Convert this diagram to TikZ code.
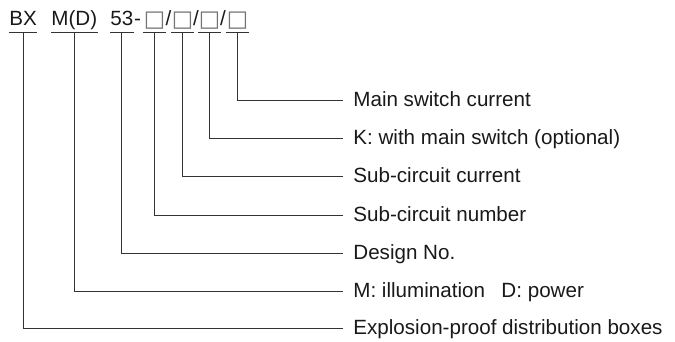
\documentclass[tikz,border=0pt]{standalone}
\usepackage{fontspec}
\setmainfont{Liberation Sans}
\newfontfamily\symfont{DejaVu Sans}
\begin{document}
\begin{tikzpicture}[x=0.5pt,y=-0.5pt,
  txt/.style={font=\fontsize{10.3pt}{12pt}\selectfont, text=black!90, inner sep=0pt},
  top/.style={txt, anchor=base west},
  boxch/.style={font=\symfont\fontsize{11.3pt}{12pt}\selectfont, text=black!55, inner sep=0pt, anchor=base},
  lab/.style={txt, anchor=west, inner xsep=5pt, text height=6pt, text depth=0pt},
  ln/.style={line width=0.5pt, draw=black!80}]
\path[use as bounding box] (0,0) rectangle (675,342);
\coordinate (ul) at (0,33);
% top code
\node[top] (bx) at (9,26) {BX};
\node[top] (md) at (51,26) {M(D)};
\node[top] (n53) at (110,26) {53};
\node[top] (dash) at (n53.base east) {-};
\node[boxch] (b1) at (154.5,26.5) {□};
\node[top, anchor=base] (s1) at (168.5,26) {/};
\node[boxch] (b2) at (182.5,26.5) {□};
\node[top, anchor=base] (s2) at (196,26) {/};
\node[boxch] (b3) at (209.5,26.5) {□};
\node[top, anchor=base] (s3) at (223,26) {/};
\node[boxch] (b4) at (237.5,26.5) {□};
% labels
\node[lab] (l1) at (343,101) {Main switch current};
\node[lab] (l2) at (343,139) {K: with main switch (optional)};
\node[lab] (l3) at (343,177) {Sub-circuit current};
\node[lab] (l4) at (343,215) {Sub-circuit number};
\node[lab] (l5) at (343,253) {Design No.};
\node[lab] (l6) at (343,291) {M: illumination\hspace{0.8em}D: power};
\node[lab] (l7) at (343,328) {Explosion-proof distribution boxes};
% underlines
\draw[ln] (bx.west |- ul) -- (bx.east |- ul);
\draw[ln] (md.west |- ul) -- (md.east |- ul);
\draw[ln] (n53.west |- ul) -- (n53.east |- ul);
\foreach \b in {b1,b2,b3,b4} \draw[ln] (\b.west |- ul) -- (\b.east |- ul);
% connectors
\draw[ln] (b4.base |- ul) |- (l1.west);
\draw[ln] (b3.base |- ul) |- (l2.west);
\draw[ln] (b2.base |- ul) |- (l3.west);
\draw[ln] (b1.base |- ul) |- (l4.west);
\draw[ln] (n53.base |- ul) |- (l5.west);
\draw[ln] (md.base |- ul) |- (l6.west);
\draw[ln] (bx.base |- ul) |- (l7.west);
\end{tikzpicture}
\end{document}
